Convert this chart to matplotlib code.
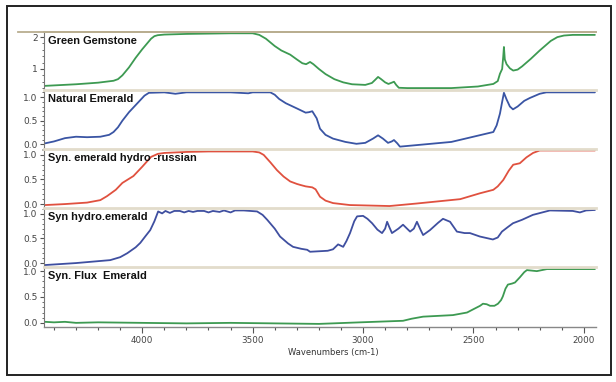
import matplotlib
matplotlib.use("Agg")
import matplotlib.pyplot as plt
from matplotlib.ticker import MultipleLocator, FixedLocator
from matplotlib.lines import Line2D
from matplotlib.patches import Rectangle

# ---------------- data ----------------
panel_labels = ["Green Gemstone", "Natural Emerald", "Syn. emerald hydro -russian",
                "Syn hydro.emerald", "Syn. Flux  Emerald"]

gem_wn = [4440, 4300, 4200, 4130, 4110, 4090, 4060, 4030, 4000, 3960, 3945, 3930, 3900, 3800,
          3700, 3600, 3500, 3470, 3440, 3400, 3370, 3330, 3300, 3275, 3258, 3240, 3225, 3200,
          3170, 3130, 3090, 3050, 2990, 2960, 2945, 2932, 2918, 2900, 2885, 2870, 2860, 2850,
          2838, 2800, 2600, 2480, 2410, 2390, 2380, 2370, 2365, 2362, 2358, 2350, 2335, 2320,
          2300, 2280, 2240, 2200, 2150, 2120, 2090, 2050, 1950]
gem_val = [0.47, 0.52, 0.57, 0.63, 0.68, 0.80, 1.05, 1.35, 1.62, 1.95, 2.03, 2.06, 2.08, 2.10,
           2.11, 2.12, 2.12, 2.07, 1.95, 1.72, 1.58, 1.45, 1.30, 1.18, 1.15, 1.22, 1.15, 1.00,
           0.84, 0.68, 0.58, 0.52, 0.50, 0.56, 0.66, 0.75, 0.68, 0.58, 0.53, 0.57, 0.60, 0.50,
           0.41, 0.40, 0.40, 0.45, 0.53, 0.62, 0.85, 1.00, 1.40, 1.69, 1.30, 1.15, 1.02, 0.95,
           0.98, 1.08, 1.32, 1.58, 1.88, 2.00, 2.05, 2.07, 2.07]

nat_wn = [4440, 4400, 4350, 4300, 4250, 4190, 4150, 4130, 4110, 4090, 4060, 4040, 4010, 3990,
          3970, 3900, 3850, 3800, 3600, 3520, 3500, 3420, 3400, 3380, 3350, 3300, 3260, 3245,
          3230, 3210, 3195, 3170, 3136, 3080, 3030, 2990, 2955, 2932, 2910, 2887, 2870, 2860,
          2845, 2833, 2600, 2410, 2395, 2380, 2370, 2362, 2350, 2335, 2321, 2300, 2270, 2245,
          2200, 2170, 1950]
nat_val = [0.02, 0.06, 0.13, 0.16, 0.15, 0.16, 0.20, 0.26, 0.36, 0.50, 0.68, 0.78, 0.93, 1.03,
           1.09, 1.10, 1.07, 1.10, 1.10, 1.08, 1.10, 1.10, 1.05, 0.96, 0.87, 0.76, 0.67, 0.68,
           0.70, 0.55, 0.33, 0.20, 0.12, 0.05, 0.01, 0.03, 0.12, 0.19, 0.12, 0.03, 0.06, 0.09,
           0.02, -0.05, 0.05, 0.26, 0.40, 0.65, 0.90, 1.09, 0.95, 0.80, 0.74, 0.80, 0.92, 0.98,
           1.07, 1.10, 1.10]

rus_wn = [4440, 4350, 4250, 4190, 4160, 4120, 4090, 4040, 4000, 3960, 3930, 3900, 3800, 3700,
          3500, 3470, 3450, 3420, 3390, 3360, 3330, 3300, 3285, 3260, 3230, 3215, 3195, 3170,
          3136, 3060, 2880, 2760, 2560, 2470, 2410, 2390, 2365, 2340, 2320, 2290, 2260, 2230,
          2200, 1950]
rus_val = [-0.02, 0.00, 0.03, 0.08, 0.16, 0.29, 0.43, 0.57, 0.76, 0.96, 1.02, 1.04, 1.06, 1.07,
           1.07, 1.05, 1.00, 0.85, 0.69, 0.56, 0.46, 0.41, 0.39, 0.36, 0.34, 0.30, 0.15, 0.07,
           0.02, -0.02, -0.04, 0.01, 0.10, 0.22, 0.29, 0.36, 0.49, 0.68, 0.80, 0.83, 0.95, 1.04,
           1.09, 1.09]

hyd_wn = [4440, 4300, 4145, 4100, 4068, 4030, 4009, 3985, 3964, 3945, 3928, 3910, 3895, 3875,
          3855, 3830, 3810, 3790, 3770, 3750, 3720, 3700, 3680, 3650, 3630, 3600, 3580, 3540,
          3480, 3455, 3434, 3400, 3376, 3340, 3317, 3280, 3253, 3240, 3160, 3136, 3113, 3090,
          3075, 3059, 3040, 3027, 3000, 2980, 2959, 2935, 2914, 2900, 2891, 2880, 2869, 2840,
          2819, 2787, 2770, 2756, 2740, 2728, 2697, 2660, 2638, 2606, 2575, 2540, 2516, 2471,
          2412, 2390, 2371, 2345, 2321, 2280, 2231, 2154, 2050, 2018, 1990, 1950]
hyd_val = [-0.04, 0.00, 0.06, 0.12, 0.20, 0.32, 0.41, 0.55, 0.67, 0.85, 1.05, 1.01, 1.06, 1.02,
           1.06, 1.06, 1.03, 1.06, 1.04, 1.06, 1.06, 1.03, 1.06, 1.04, 1.07, 1.03, 1.07, 1.07,
           1.05, 0.98, 0.88, 0.70, 0.54, 0.40, 0.33, 0.29, 0.27, 0.23, 0.25, 0.28, 0.38, 0.33,
           0.45, 0.61, 0.85, 0.95, 0.96, 0.90, 0.81, 0.68, 0.61, 0.70, 0.84, 0.72, 0.61, 0.70,
           0.78, 0.64, 0.70, 0.84, 0.68, 0.57, 0.67, 0.82, 0.90, 0.84, 0.64, 0.61, 0.61, 0.54,
           0.48, 0.52, 0.64, 0.73, 0.81, 0.88, 0.98, 1.07, 1.06, 1.03, 1.07, 1.08]

flux_wn = [4440, 4400, 4350, 4300, 4200, 4000, 3800, 3600, 3400, 3200, 3014, 2819, 2780, 2728,
           2593, 2529, 2502, 2470, 2457, 2440, 2425, 2405, 2389, 2375, 2367, 2355, 2344, 2325,
           2312, 2290, 2270, 2258, 2213, 2167, 1950]
flux_val = [0.02, 0.01, 0.02, 0.00, 0.01, 0.00, -0.01, 0.00, -0.01, -0.02, 0.01, 0.04, 0.08, 0.12,
            0.15, 0.20, 0.26, 0.33, 0.37, 0.36, 0.33, 0.33, 0.37, 0.44, 0.51, 0.66, 0.74, 0.76,
            0.78, 0.88, 0.98, 1.02, 1.00, 1.04, 1.04]

series_wn = [gem_wn, nat_wn, rus_wn, hyd_wn, flux_wn]
series_val = [gem_val, nat_val, rus_val, hyd_val, flux_val]
series_colors = ["#3d9a52", "#3a55a4", "#e0513f", "#3f4fa0", "#3d9a52"]

ylims = [(0.34, 2.17), (-0.10, 1.15), (-0.08, 1.12), (-0.08, 1.12), (-0.08, 1.08)]
yticks = [[1, 2], [0.0, 0.5, 1.0], [0.0, 0.5, 1.0], [0.0, 0.5, 1.0], [0.0, 0.5, 1.0]]
yticklabels = [["1", "2"], ["0.0", "0.5", "1.0"], ["0.0", "0.5", "1.0"],
               ["0.0", "0.5", "1.0"], ["0.0", "0.5", "1.0"]]
xticks = [4000, 3500, 3000, 2500, 2000]
xlabel = "Wavenumbers (cm-1)"

# ---------------- layout ----------------
W, H = 616, 382
fig = plt.figure(figsize=(W / 100, H / 100), dpi=100)
fig.patch.set_facecolor("white")

left_px, right_px = 44, 596
edges_px = [31.7, 90, 149, 208, 267, 327]

tick_color = "#555555"
sep_color = "#e2dccb"

axes = []
for i in range(5):
    top, bot = edges_px[i], edges_px[i + 1]
    ax = fig.add_axes([left_px / W, 1 - bot / H, (right_px - left_px) / W, (bot - top) / H])
    ax.plot(series_wn[i], series_val[i], color=series_colors[i], lw=1.3,
            solid_joinstyle="round", solid_capstyle="round")
    ax.set_xlim(4445, 1945)
    ax.set_ylim(*ylims[i])
    ax.yaxis.set_major_locator(FixedLocator(yticks[i]))
    ax.set_yticklabels(yticklabels[i])
    ax.yaxis.set_minor_locator(MultipleLocator(0.2 if i == 0 else 0.1))
    ax.tick_params(axis="y", which="major", length=3, width=0.8, color=tick_color,
                   labelsize=6.5, labelcolor="#444444", pad=1.5)
    ax.tick_params(axis="y", which="minor", length=1.5, width=0.6, color=tick_color)
    for s in ["right", "bottom"]:
        ax.spines[s].set_visible(False)
    ax.spines["left"].set_color("#777777")
    ax.spines["left"].set_linewidth(0.8)
    ax.spines["top"].set_color(sep_color if i > 0 else "#b9ae90")
    ax.spines["top"].set_linewidth(2.0 if i > 0 else 1.3)
    ax.text(0.008, 0.93, panel_labels[i], transform=ax.transAxes, ha="left", va="top",
            fontsize=7.9, fontweight="bold", family="Liberation Sans", color="#111111")
    ax.patch.set_alpha(0)
    if i < 4:
        ax.set_xticks([])
    else:
        ax.spines["bottom"].set_visible(True)
        ax.spines["bottom"].set_color("#888888")
        ax.spines["bottom"].set_linewidth(1.0)
        ax.set_xticks(xticks)
        ax.xaxis.set_minor_locator(MultipleLocator(100))
        ax.tick_params(axis="x", which="major", length=4, width=0.8, color=tick_color,
                       labelsize=6.3, labelcolor="#444444", pad=2.5)
        ax.tick_params(axis="x", which="minor", length=2.5, width=0.8, color=tick_color)
    axes.append(ax)

# top line extending to the left
fig.add_artist(Line2D([18 / W, right_px / W], [1 - 31.7 / H, 1 - 31.7 / H],
                      color="#b9ae90", lw=1.3, transform=fig.transFigure))

fig.text(333 / W, 1 - 353 / H, xlabel, ha="center", va="center", fontsize=6, color="#333333")

# outer border
fig.add_artist(Rectangle((7 / W, 1 - 375 / H), (611 - 7) / W, (375 - 6) / H,
                         fill=False, edgecolor="#222222", lw=1.4, transform=fig.transFigure))

fig.savefig("out.png", dpi=100)
